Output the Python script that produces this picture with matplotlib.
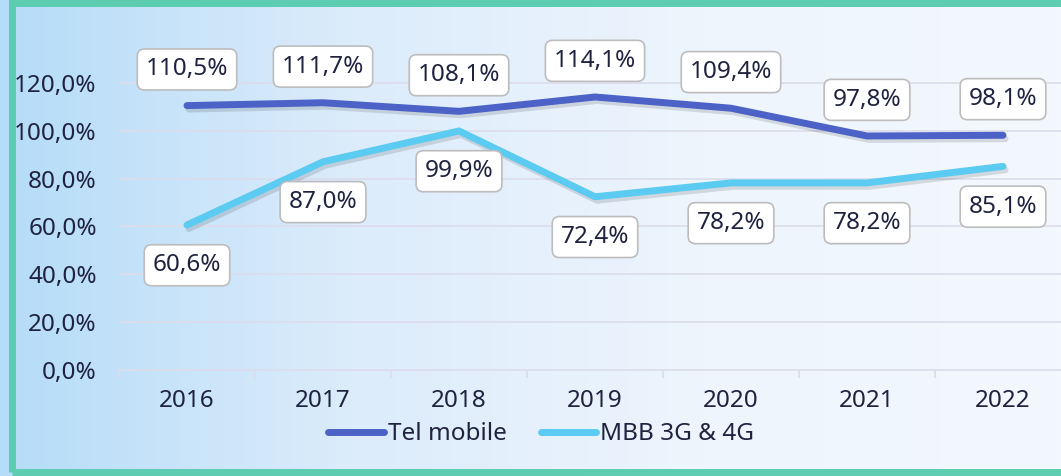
import numpy as np
import matplotlib
matplotlib.use("Agg")
import matplotlib.pyplot as plt
import matplotlib.patheffects as pe
from matplotlib.colors import LinearSegmentedColormap
from matplotlib.lines import Line2D
from matplotlib.patches import Rectangle

years = ["2016", "2017", "2018", "2019", "2020", "2021", "2022"]
tel_mobile = [110.5, 111.7, 108.1, 114.1, 109.4, 97.8, 98.1]
mbb = [60.6, 87.0, 99.9, 72.4, 78.2, 78.2, 85.1]
y_ticks = [0, 20, 40, 60, 80, 100, 120]

TEL_COLOR = "#4c62c7"
MBB_COLOR = "#5ccbf1"
TEXT_COLOR = "#1f2340"
GRID_COLOR = "#dcdcec"

plt.rcParams["font.family"] = ["Noto Sans", "DejaVu Sans"]
plt.rcParams["font.size"] = 17.5

fig = plt.figure(figsize=(10.61, 4.76), dpi=100)

# background gradient
bg = fig.add_axes([0, 0, 1, 1], zorder=-10)
grad = np.linspace(0, 1, 256).reshape(1, -1)
cmap = LinearSegmentedColormap.from_list("bg", ["#b5dcf8", "#dcecfb", "#eef5fd", "#f3f8fe"])
bg.imshow(grad, aspect="auto", cmap=cmap, extent=[0, 1, 0, 1])
bg.set_xlim(0, 1)
bg.set_ylim(0, 1)
bg.axis("off")
fig.patches.append(Rectangle((12 / 1061, 4 / 476), 1.05, 469 / 476, transform=fig.transFigure,
                             fill=False, ec="#5ccdb0", lw=5, zorder=-5))

ax = fig.add_axes([119 / 1061, (476 - 370) / 476, 952 / 1061, 335 / 476])
ax.patch.set_alpha(0)
x = np.arange(len(years))

shadow = [pe.SimpleLineShadow(offset=(1.5, -2.5), shadow_color="#000000", alpha=0.12), pe.Normal()]
ax.plot(x, tel_mobile, color=TEL_COLOR, lw=5, solid_capstyle="round", solid_joinstyle="round",
        path_effects=shadow, zorder=3)
ax.plot(x, mbb, color=MBB_COLOR, lw=5, solid_capstyle="round", solid_joinstyle="round",
        path_effects=shadow, zorder=3)

box = dict(boxstyle="round,pad=0.35,rounding_size=0.3", fc="white", ec="#bdbdbd", lw=1.2)
for xi, v in zip(x, tel_mobile):
    ax.annotate(f"{v:.1f}%".replace(".", ","), (xi, v), xytext=(0, 26), textcoords="offset points",
                ha="center", va="center", color=TEXT_COLOR, bbox=box, zorder=5)
for xi, v in zip(x, mbb):
    ax.annotate(f"{v:.1f}%".replace(".", ","), (xi, v), xytext=(0, -29), textcoords="offset points",
                ha="center", va="center", color=TEXT_COLOR, bbox=box, zorder=5)

ax.set_xlim(-0.5, 6.5)
ax.set_ylim(0, 140)
ax.set_yticks(y_ticks)
ax.set_yticklabels([f"{t:.1f}%".replace(".", ",") for t in y_ticks])
ax.set_xticks(x)
ax.set_xticklabels(years)
ax.set_xticks(np.arange(-0.5, 7, 1), minor=True)
ax.tick_params(axis="x", which="major", length=0, pad=14, colors=TEXT_COLOR)
ax.tick_params(axis="x", which="minor", length=6, width=1.2, color=GRID_COLOR)
ax.tick_params(axis="y", length=0, pad=16, colors=TEXT_COLOR)
for yt in y_ticks[1:]:
    ax.axhline(yt, color=GRID_COLOR, lw=1.2, zorder=1)
for s in ["top", "right", "left"]:
    ax.spines[s].set_visible(False)
ax.spines["bottom"].set_color(GRID_COLOR)
ax.spines["bottom"].set_linewidth(1.2)

handles = [Line2D([], [], color=TEL_COLOR, lw=5, solid_capstyle="round"),
           Line2D([], [], color=MBB_COLOR, lw=5, solid_capstyle="round")]
fig.legend(handles, ["Tel mobile", "MBB 3G & 4G"], loc="center", bbox_to_anchor=(0.51, 0.088),
           ncol=2, frameon=False, handlelength=2.3, handletextpad=0.15, columnspacing=1.4,
           labelcolor=TEXT_COLOR)

fig.savefig("out.png", dpi=100)
